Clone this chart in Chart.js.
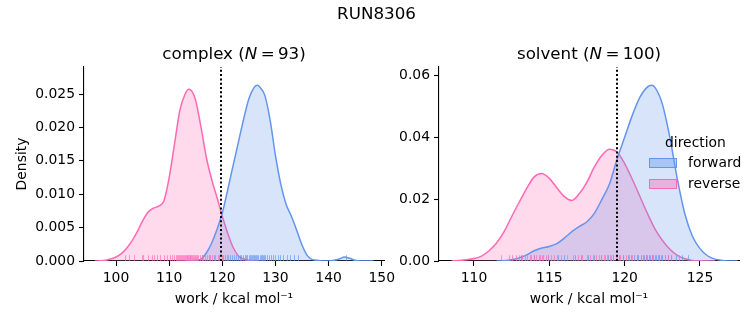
<!DOCTYPE html>
<html><head><meta charset="utf-8">
<script src="https://cdn.jsdelivr.net/npm/chart.js@4/dist/chart.umd.min.js"></script>
<style>
html,body{margin:0;padding:0;background:#fff;}
#wrap{position:relative;width:753px;height:325px;overflow:hidden;font-family:"DejaVu Sans",sans-serif;color:#000;}
canvas{position:absolute;left:0;top:0;}
.t{position:absolute;white-space:nowrap;}
.c{text-align:center;width:400px;}
.patch{position:absolute;width:26px;height:8px;}
</style></head><body>
<div id="wrap">
<canvas id="c1" width="753" height="325"></canvas>
<canvas id="c2" width="753" height="325"></canvas>
<div class="t c" style="left:176.5px;top:3px;font-size:16.7px;line-height:20px;">RUN8306</div>
<div class="t c" style="left:34px;top:42.7px;font-size:16.7px;line-height:20px;">complex (<i>N</i>&#8201;=&#8201;93)</div>
<div class="t c" style="left:389px;top:42.7px;font-size:16.7px;line-height:20px;">solvent (<i>N</i>&#8201;=&#8201;100)</div>
<div class="t" style="left:665px;top:134.2px;font-size:13.9px;line-height:16px;">direction</div>
<div class="patch" style="left:649px;top:157.5px;background:rgba(100,149,237,0.4);border:1px solid rgb(100,149,237);"></div>
<div class="t" style="left:688px;top:153.9px;font-size:13.9px;line-height:16px;">forward</div>
<div class="patch" style="left:649px;top:178.5px;background:rgba(255,105,180,0.4);border:1px solid rgb(255,105,180);"></div>
<div class="t" style="left:688px;top:174.5px;font-size:13.9px;line-height:16px;">reverse</div>
</div>
<script>
// ---------- data ----------
const directions = ['forward', 'reverse'];

// complex panel: KDE curves
const complexFwdX = [113, 114, 115, 116, 117, 118, 119, 120, 121, 122, 123, 124, 125, 126, 126.6, 127, 128, 129, 130, 131, 132, 133, 134, 135, 136, 137, 138, 139, 140, 141, 142, 143, 144, 145, 146, 147, 148.5];
const complexFwdY = [0, 0.00002, 0.0001, 0.0003, 0.0012, 0.0027, 0.0047, 0.0072, 0.0106, 0.0142, 0.0177, 0.0212, 0.0243, 0.0260, 0.0263, 0.0261, 0.0248, 0.0211, 0.0158, 0.0115, 0.0085, 0.0067, 0.0046, 0.0024, 0.0008, 0.0002, 0.0001, 0.0000, 0.0000, 0.0001, 0.0003, 0.0006, 0.0004, 0.0001, 0.0000, 0.0000, 0.0000];
const complexRevX = [96, 97, 98, 99, 100, 101, 102, 103, 104, 105, 106, 107, 108, 109, 110, 111, 112, 113, 113.7, 114.5, 115, 116, 117, 118, 119, 120, 121, 122, 123, 124, 125, 126, 127];
const complexRevY = [0.0000, 0.00003, 0.0001, 0.0003, 0.0006, 0.0011, 0.0019, 0.0030, 0.0044, 0.0060, 0.0073, 0.0079, 0.0082, 0.0090, 0.0125, 0.0175, 0.0225, 0.0250, 0.0257, 0.0251, 0.0240, 0.0200, 0.0155, 0.0122, 0.0095, 0.0067, 0.0042, 0.0021, 0.0008, 0.0003, 0.0001, 0.0000, 0.0000];
// complex panel: rug (individual work values)
const complexFwdRug = [116.2, 117.5, 118.4, 119.3, 120.1, 120.5, 121.0, 121.4, 121.8, 122.2, 122.6, 123.0, 123.3, 123.6, 123.9, 124.2, 124.5, 124.7, 125.0, 125.2, 125.4, 125.6, 125.8, 126.0, 126.2, 126.4, 126.6, 126.8, 127.0, 127.2, 127.4, 127.6, 127.8, 128.1, 128.4, 128.7, 129.1, 129.5, 130.0, 130.4, 130.9, 131.5, 132.1, 132.8, 133.5, 134.2, 143.2];
const complexRevRug = [101.7, 102.5, 103.3, 104.8, 105.1, 106.1, 106.7, 107.2, 107.8, 108.3, 109.0, 109.6, 110.2, 110.5, 110.9, 111.2, 111.4, 111.7, 111.9, 112.1, 112.3, 112.5, 112.6, 112.8, 113.0, 113.1, 113.3, 113.4, 113.6, 113.7, 113.9, 114.0, 114.2, 114.3, 114.5, 114.7, 114.8, 115.0, 115.3, 115.5, 115.8, 116.1, 116.4, 116.8, 117.2, 117.6, 118.1, 118.6, 119.2, 120.0, 120.8];
const complexMark = 119.8;

// solvent panel: KDE curves
const solventFwdX = [111.5, 112, 112.5, 113, 113.5, 114, 114.5, 115, 115.5, 116, 116.5, 117, 117.5, 118, 118.5, 119, 119.5, 120, 120.5, 121, 121.5, 121.8, 122, 122.5, 123, 123.5, 124, 124.5, 125, 125.5, 126, 126.5, 127, 127.5];
const solventFwdY = [0.0000, 0.0001, 0.0004, 0.0010, 0.0020, 0.0033, 0.0042, 0.0047, 0.0056, 0.0074, 0.0095, 0.0112, 0.0127, 0.0155, 0.0200, 0.0250, 0.0330, 0.0400, 0.0470, 0.0528, 0.0562, 0.0568, 0.0562, 0.0508, 0.0400, 0.0265, 0.0152, 0.0080, 0.0040, 0.0017, 0.0006, 0.0002, 0.0000, 0.0000];
const solventRevX = [108.5, 109, 109.5, 110, 110.5, 111, 111.5, 112, 112.5, 113, 113.5, 114, 114.5, 115, 115.5, 116, 116.5, 117, 117.5, 118, 118.5, 119, 119.5, 120, 120.5, 121, 121.5, 122, 122.5, 123, 123.5, 124, 124.5, 125, 126];
const solventRevY = [0.0000, 0.0002, 0.0004, 0.0008, 0.0016, 0.0033, 0.0058, 0.0095, 0.0143, 0.0190, 0.0235, 0.0272, 0.0283, 0.0267, 0.0237, 0.0208, 0.0196, 0.0218, 0.0255, 0.0305, 0.0342, 0.0361, 0.0352, 0.0315, 0.0265, 0.0210, 0.0155, 0.0105, 0.0067, 0.0038, 0.0018, 0.0007, 0.0002, 0.0001, 0.0000];
// solvent panel: rug
const solventFwdRug = [113.1, 114.0, 114.9, 115.6, 116.0, 116.7, 117.1, 117.6, 118.0, 118.4, 118.9, 119.2, 119.6, 119.9, 120.2, 120.4, 120.6, 120.8, 120.9, 121.1, 121.2, 121.3, 121.4, 121.5, 121.6, 121.7, 121.8, 121.9, 122.0, 122.1, 122.2, 122.3, 122.4, 122.5, 122.7, 122.9, 123.1, 123.4, 123.8, 124.2];
const solventRevRug = [111.8, 112.3, 112.5, 112.8, 113.0, 113.2, 113.4, 113.5, 113.7, 113.8, 114.0, 114.1, 114.3, 114.4, 114.5, 114.6, 114.8, 114.9, 115.1, 115.3, 115.5, 115.8, 116.2, 116.6, 116.9, 117.2, 117.5, 117.7, 117.9, 118.1, 118.3, 118.4, 118.6, 118.7, 118.8, 119.0, 119.1, 119.2, 119.4, 119.5, 119.7, 119.9, 120.1, 120.3, 120.5, 120.8, 121.1, 121.4, 121.8, 122.3, 122.9, 123.6];
const solventMark = 119.5;

// tick labels
const complexXTicks = [100, 110, 120, 130, 140, 150];
const complexYTicks = [0, 0.005, 0.010, 0.015, 0.020, 0.025];
const solventXTicks = [110, 115, 120, 125];
const solventYTicks = [0, 0.02, 0.04, 0.06];
const xLabel = 'work / kcal mol\u207B\u00B9';
const yLabel = 'Density';

// ---------- styling ----------
const FONT = 'DejaVu Sans';
const BLUE = 'rgb(100,149,237)', BLUE_FILL = 'rgba(100,149,237,0.25)', BLUE_RUG = 'rgba(100,149,237,0.65)';
const PINK = 'rgb(255,105,180)', PINK_FILL = 'rgba(255,105,180,0.25)', PINK_RUG = 'rgba(255,105,180,0.65)';
Chart.defaults.font.family = FONT;
Chart.defaults.color = '#000';

const rugPlugin = {
  id: 'rugAndLine',
  afterDatasetsDraw(chart, args, opts) {
    const {ctx, chartArea: a, scales: {x}} = chart;
    ctx.save();
    ctx.beginPath(); ctx.rect(a.left, a.top, a.right - a.left, a.bottom - a.top); ctx.clip();
    const h = (a.bottom - a.top) * 0.03;
    opts.rugs.forEach(r => {
      ctx.strokeStyle = r.color; ctx.lineWidth = 1;
      r.values.forEach(v => {
        const px = Math.round(x.getPixelForValue(v)) + 0.5;
        ctx.beginPath(); ctx.moveTo(px, a.bottom); ctx.lineTo(px, a.bottom - h); ctx.stroke();
      });
    });
    const vx = Math.round(x.getPixelForValue(opts.mark));
    ctx.setLineDash([2, 2.3]); ctx.lineWidth = 2; ctx.strokeStyle = '#000';
    ctx.beginPath(); ctx.moveTo(vx, a.bottom); ctx.lineTo(vx, a.top); ctx.stroke();
    ctx.restore();
  }
};

function kdeSet(label, xs, ys, line, fillc) {
  return {label, data: xs.map((v, i) => ({x: v, y: ys[i]})), borderColor: line, backgroundColor: fillc,
    fill: 'origin', borderWidth: 1.5, pointRadius: 0, cubicInterpolationMode: 'monotone'};
}

function makeChart(id, o) {
  const tickFont = {family: FONT, size: 13.9};
  return new Chart(document.getElementById(id), {
    type: 'line',
    data: {datasets: [
      kdeSet(directions[0], o.fx, o.fy, BLUE, BLUE_FILL),
      kdeSet(directions[1], o.rx, o.ry, PINK, PINK_FILL)
    ]},
    options: {
      responsive: false, animation: false, events: [],
      layout: {padding: {left: o.padLeft, right: o.padRight, top: 67, bottom: 0}},
      plugins: {legend: {display: false}, tooltip: {enabled: false}, title: {display: false},
        rugAndLine: {mark: o.mark, rugs: [{color: BLUE_RUG, values: o.fRug}, {color: PINK_RUG, values: o.rRug}]}},
      scales: {
        x: {type: 'linear', min: o.xmin, max: o.xmax,
          afterBuildTicks: s => { s.ticks = o.xTicks.map(v => ({value: v})); },
          afterFit: s => { s.height = 64; },
          ticks: {font: tickFont, color: '#000', padding: 4, maxRotation: 0, autoSkip: false, callback: v => String(v)},
          grid: {display: true, drawOnChartArea: false, drawTicks: true, tickLength: 5, tickWidth: 1.1, tickColor: '#000'},
          border: {display: true, color: '#000', width: 1.1},
          title: {display: true, text: xLabel, font: tickFont, color: '#000', padding: {top: 0, bottom: 17.2}}},
        y: {type: 'linear', min: 0, max: o.ymax,
          afterBuildTicks: s => { s.ticks = o.yTicks.map(v => ({value: v})); },
          afterFit: s => { s.width = 84; },
          ticks: {font: tickFont, color: '#000', padding: 4, autoSkip: false, callback: v => v.toFixed(o.dec)},
          grid: {display: true, drawOnChartArea: false, drawTicks: true, tickLength: 5, tickWidth: 1.1, tickColor: '#000'},
          border: {display: true, color: '#000', width: 1.1},
          title: {display: o.showY, text: yLabel, font: tickFont, color: '#000', padding: {top: 13.7, bottom: 0}}}
      }
    },
    plugins: [rugPlugin]
  });
}

makeChart('c1', {fx: complexFwdX, fy: complexFwdY, rx: complexRevX, ry: complexRevY, fRug: complexFwdRug, rRug: complexRevRug,
  mark: complexMark, xTicks: complexXTicks, yTicks: complexYTicks, xmin: 93.97, xmax: 150.43, ymax: 0.02905, dec: 3,
  padLeft: 0, padRight: 753 - 384, showY: true});
makeChart('c2', {fx: solventFwdX, fy: solventFwdY, rx: solventRevX, ry: solventRevY, fRug: solventFwdRug, rRug: solventRevRug,
  mark: solventMark, xTicks: solventXTicks, yTicks: solventYTicks, xmin: 107.68, xmax: 127.59, ymax: 0.06272, dec: 2,
  padLeft: 439 - 84, padRight: 753 - 739, showY: false});
</script>
</body></html>
